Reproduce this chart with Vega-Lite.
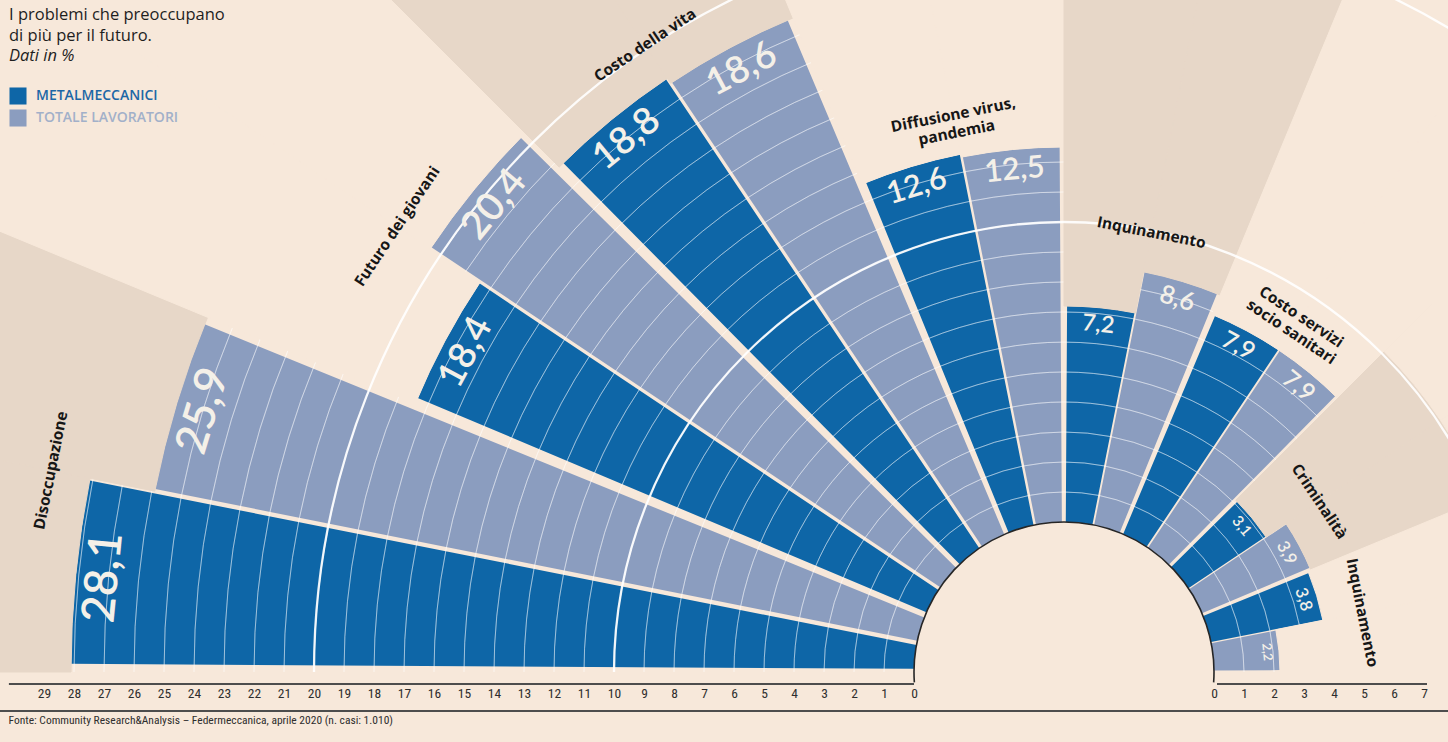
{
  "$schema": "https://vega.github.io/schema/vega-lite/v6.json",
  "width": 768,
  "height": 140,
  "autosize": {"type": "none"},
  "padding": {"top": 602, "bottom": 0, "left": 680, "right": 0},
  "background": "#f7e8da",
  "config": {
    "view": {"stroke": null},
    "locale": {"number": {"decimal": ",", "thousands": ".", "grouping": [3], "currency": ["€", ""]}}
  },
  "title": {
    "text": ["I problemi che preoccupano", "di più per il futuro."],
    "subtitle": "Dati in %",
    "anchor": "start",
    "frame": "group",
    "orient": "top",
    "offset": -894,
    "dx": -671,
    "font": "Open Sans",
    "fontSize": 16.5,
    "fontWeight": "normal",
    "color": "#1e1e1e",
    "lineHeight": 21,
    "subtitleFont": "Open Sans",
    "subtitleFontSize": 16.5,
    "subtitleFontStyle": "italic",
    "subtitleColor": "#1e1e1e",
    "subtitlePadding": 3
  },
  "datasets": {
    "bars": [
      {"cat": "Disoccupazione", "k": 0, "serie": "METALMECCANICI", "slot": 0, "v": 28.1},
      {"cat": "Disoccupazione", "k": 0, "serie": "TOTALE LAVORATORI", "slot": 1, "v": 25.9},
      {"cat": "Futuro dei giovani", "k": 1, "serie": "METALMECCANICI", "slot": 2, "v": 18.4},
      {"cat": "Futuro dei giovani", "k": 1, "serie": "TOTALE LAVORATORI", "slot": 3, "v": 20.4},
      {"cat": "Costo della vita", "k": 2, "serie": "METALMECCANICI", "slot": 4, "v": 18.8},
      {"cat": "Costo della vita", "k": 2, "serie": "TOTALE LAVORATORI", "slot": 5, "v": 18.6},
      {"cat": "Diffusione virus,\npandemia", "k": 3, "serie": "METALMECCANICI", "slot": 6, "v": 12.6},
      {"cat": "Diffusione virus,\npandemia", "k": 3, "serie": "TOTALE LAVORATORI", "slot": 7, "v": 12.5},
      {"cat": "Inquinamento", "k": 4, "serie": "METALMECCANICI", "slot": 8, "v": 7.2},
      {"cat": "Inquinamento", "k": 4, "serie": "TOTALE LAVORATORI", "slot": 9, "v": 8.6},
      {"cat": "Costo servizi\nsocio sanitari", "k": 5, "serie": "METALMECCANICI", "slot": 10, "v": 7.9},
      {"cat": "Costo servizi\nsocio sanitari", "k": 5, "serie": "TOTALE LAVORATORI", "slot": 11, "v": 7.9},
      {"cat": "Criminalità", "k": 6, "serie": "METALMECCANICI", "slot": 12, "v": 3.1},
      {"cat": "Criminalità", "k": 6, "serie": "TOTALE LAVORATORI", "slot": 13, "v": 3.9},
      {"cat": "Inquinamento", "k": 7, "serie": "METALMECCANICI", "slot": 14, "v": 3.8},
      {"cat": "Inquinamento", "k": 7, "serie": "TOTALE LAVORATORI", "slot": 15, "v": 2.2}
    ],
    "rings": [
      {"u": 1}, {"u": 2}, {"u": 3}, {"u": 4}, {"u": 5}, {"u": 6}, {"u": 7}, {"u": 8}, {"u": 9}, {"u": 10},
      {"u": 11}, {"u": 12}, {"u": 13}, {"u": 14}, {"u": 15}, {"u": 16}, {"u": 17}, {"u": 18}, {"u": 19}, {"u": 20},
      {"u": 21}, {"u": 22}, {"u": 23}, {"u": 24}, {"u": 25}, {"u": 26}, {"u": 27}, {"u": 28}, {"u": 29}
    ],
    "lines": [
      {"x0": -35.17, "x1": -5, "y": -0.4},
      {"x0": 5.1, "x1": 12.1, "y": -0.4},
      {"x0": -35.4667, "x1": 12.8, "y": -1.3}
    ],
    "one": [{"o": 1}]
  },
  "layer": [
    {
      "data": {"name": "bars"},
      "transform": [{"filter": "datum.serie == 'METALMECCANICI'"}],
      "mark": {"type": "arc", "radius2": 150, "padAngle": 0.0045, "thetaOffset": 0.006, "theta2Offset": 0.19635},
      "encoding": {
        "theta": {"field": "slot", "type": "quantitative", "stack": null, "scale": {"domain": [0, 16], "range": [-1.5707963, 1.5707963]}},
        "theta2": {"field": "slot"},
        "radius": {"field": "v", "type": "quantitative", "stack": null, "scale": {"type": "linear", "domain": [0, 29], "range": [150, 1020], "zero": false}},
        "color": {
          "field": "serie",
          "type": "nominal",
          "scale": {"domain": ["METALMECCANICI", "TOTALE LAVORATORI"], "range": ["#0e66a7", "#8b9dbf"]},
          "legend": {
            "title": null,
            "orient": "none",
            "legendX": -671,
            "legendY": -515,
            "symbolType": "square",
            "symbolSize": 290,
            "symbolStrokeWidth": 0,
            "labelFont": "Open Sans",
            "labelFontSize": 14,
            "labelFontWeight": 600,
            "labelOffset": 9,
            "rowPadding": 4,
            "labelColor": {"expr": "datum.label === 'METALMECCANICI' ? '#1c67a6' : '#a2b0c9'"}
          }
        }
      }
    },
    {
      "data": {"name": "bars"},
      "transform": [{"filter": "datum.serie == 'TOTALE LAVORATORI'"}],
      "mark": {"type": "arc", "radius2": 150, "padAngle": 0.0045, "theta2Offset": 0.19035},
      "encoding": {
        "theta": {"field": "slot", "type": "quantitative", "stack": null, "scale": {"domain": [0, 16], "range": [-1.5707963, 1.5707963]}},
        "theta2": {"field": "slot"},
        "radius": {"field": "v", "type": "quantitative", "stack": null, "scale": {"type": "linear", "domain": [0, 29], "range": [150, 1020], "zero": false}},
        "color": {"field": "serie", "type": "nominal", "scale": {"domain": ["METALMECCANICI", "TOTALE LAVORATORI"], "range": ["#0e66a7", "#8b9dbf"]}}
      }
    },
    {
      "data": {"name": "rings"},
      "mark": {"type": "arc", "theta": -1.5707963, "theta2": 1.5707963, "filled": false, "stroke": "#ffffff", "strokeWidth": 0.9, "strokeOpacity": 0.4},
      "encoding": {
        "radius": {"field": "u", "type": "quantitative", "stack": null, "scale": {"type": "linear", "domain": [0, 29], "range": [150, 1020], "zero": false}},
        "radius2": {"field": "u"}
      }
    },
    {
      "data": {"name": "bars"},
      "mark": {"type": "arc", "radius2": 1500, "strokeWidth": 1, "theta2Offset": 0.19635},
      "encoding": {
        "theta": {"field": "slot", "type": "quantitative", "stack": null, "scale": {"domain": [0, 16], "range": [-1.5707963, 1.5707963]}},
        "theta2": {"field": "slot"},
        "radius": {"field": "v", "type": "quantitative", "stack": null, "scale": {"type": "linear", "domain": [0, 29], "range": [150, 1020], "zero": false}},
        "fill": {"field": "k", "type": "nominal", "scale": {"domain": [0, 1, 2, 3, 4, 5, 6, 7], "range": ["#e7d7c8", "#f7e8da", "#e7d7c8", "#f7e8da", "#e7d7c8", "#f7e8da", "#e7d7c8", "#f7e8da"]}, "legend": null},
        "stroke": {"field": "k", "type": "nominal", "scale": {"domain": [0, 1, 2, 3, 4, 5, 6, 7], "range": ["#e7d7c8", "#f7e8da", "#e7d7c8", "#f7e8da", "#e7d7c8", "#f7e8da", "#e7d7c8", "#f7e8da"]}, "legend": null}
      }
    },
    {
      "data": {"name": "bars"},
      "transform": [{"filter": "datum.k == 6"}],
      "mark": {"type": "arc", "radius": 453, "radius2": 1500, "fill": "#f7e8da", "stroke": "#f7e8da", "strokeWidth": 1, "theta2Offset": 0.19635},
      "encoding": {
        "theta": {"field": "slot", "type": "quantitative", "stack": null, "scale": {"domain": [0, 16], "range": [-1.5707963, 1.5707963]}},
        "theta2": {"field": "slot"}
      }
    },
    {
      "data": {"name": "rings"},
      "transform": [{"filter": "datum.u == 10 || datum.u == 20"}],
      "mark": {"type": "arc", "theta": -1.5707963, "theta2": 1.5707963, "filled": false, "stroke": "#ffffff", "strokeWidth": 2.3, "strokeOpacity": 0.9},
      "encoding": {
        "radius": {"field": "u", "type": "quantitative", "stack": null, "scale": {"type": "linear", "domain": [0, 29], "range": [150, 1020], "zero": false}},
        "radius2": {"field": "u"}
      }
    },
    {
      "data": {"name": "one"},
      "mark": {"type": "arc", "theta": -1.64, "theta2": 1.64, "radius": 150, "radius2": 150, "filled": false, "stroke": "#262626", "strokeWidth": 1.6},
      "encoding": {}
    },
    {
      "data": {"name": "bars"},
      "mark": {"type": "text", "font": "Lato", "fontWeight": 600, "baseline": "top", "align": "center", "fill": "#f4f0e8", "radiusOffset": -6, "thetaOffset": 0.09817},
      "encoding": {
        "theta": {"field": "slot", "type": "quantitative", "stack": null, "scale": {"domain": [0, 16], "range": [-1.5707963, 1.5707963]}},
        "radius": {"field": "v", "type": "quantitative", "stack": null, "scale": {"type": "linear", "domain": [0, 29], "range": [150, 1020], "zero": false}},
        "angle": {"field": "slot", "type": "quantitative", "scale": {"domain": [-0.5, 15.5], "range": [-90, 90]}, "legend": null},
        "size": {"field": "v", "type": "quantitative", "scale": {"type": "sqrt", "domain": [0, 28.1], "range": [0, 46]}, "legend": null},
        "text": {"field": "v", "type": "quantitative", "format": ".1f"}
      }
    },
    {
      "data": {"name": "bars"},
      "mark": {"type": "text", "font": "Open Sans", "fontWeight": 700, "fontSize": 15.5, "baseline": "bottom", "align": "center", "fill": "#161616", "lineBreak": "\n", "lineHeight": 18, "radiusOffset": 32, "thetaOffset": 0.19635},
      "encoding": {
        "theta": {"aggregate": "min", "field": "slot", "type": "quantitative", "stack": null, "scale": {"domain": [0, 16], "range": [-1.5707963, 1.5707963]}},
        "radius": {"aggregate": "max", "field": "v", "type": "quantitative", "stack": null, "scale": {"type": "linear", "domain": [0, 29], "range": [150, 1020], "zero": false}},
        "angle": {"field": "k", "type": "quantitative", "scale": {"domain": [0, 8], "range": [-78.75, 101.25]}, "legend": null},
        "text": {"field": "cat", "type": "nominal"}
      }
    },
    {
      "data": {"name": "lines"},
      "mark": {"type": "rule", "stroke": "#4d4d4d", "strokeWidth": 1.8},
      "encoding": {
        "x": {
          "field": "x0",
          "type": "quantitative",
          "scale": {"domain": [-35.4667, 12.8], "range": [-680, 768], "nice": false, "zero": false},
          "axis": {
            "values": [-34, -33, -32, -31, -30, -29, -28, -27, -26, -25, -24, -23, -22, -21, -20, -19, -18, -17, -16, -15, -14, -13, -12, -11, -10, -9, -8, -7, -6, -5, 5, 6, 7, 8, 9, 10, 11, 12],
            "labelExpr": "abs(datum.value) - 5",
            "grid": false,
            "ticks": false,
            "domain": false,
            "labelPadding": -49,
            "labelBaseline": "middle",
            "labelFont": "Liberation Sans Narrow, Roboto Condensed, Roboto, sans-serif",
            "labelFontSize": 13.5,
            "labelColor": "#2e2e2e",
            "labelFlush": false,
            "labelOverlap": false,
            "title": "Fonte: Community Research&Analysis – Federmeccanica, aprile 2020 (n. casi: 1.010)",
            "titleX": -672,
            "titleY": -22,
            "titleAlign": "left",
            "titleAnchor": "start",
            "titleBaseline": "middle",
            "titleFont": "Liberation Sans Narrow, Roboto Condensed, Roboto, sans-serif",
            "titleFontSize": 11.5,
            "titleFontWeight": "normal",
            "titleColor": "#2e2e2e"
          }
        },
        "x2": {"field": "x1"},
        "y": {"field": "y", "type": "quantitative", "scale": {"domain": [-2.3333, 22.4], "range": [140, -602], "nice": false, "zero": false}, "axis": null}
      }
    }
  ],
  "resolve": {"scale": {"angle": "independent"}}
}
